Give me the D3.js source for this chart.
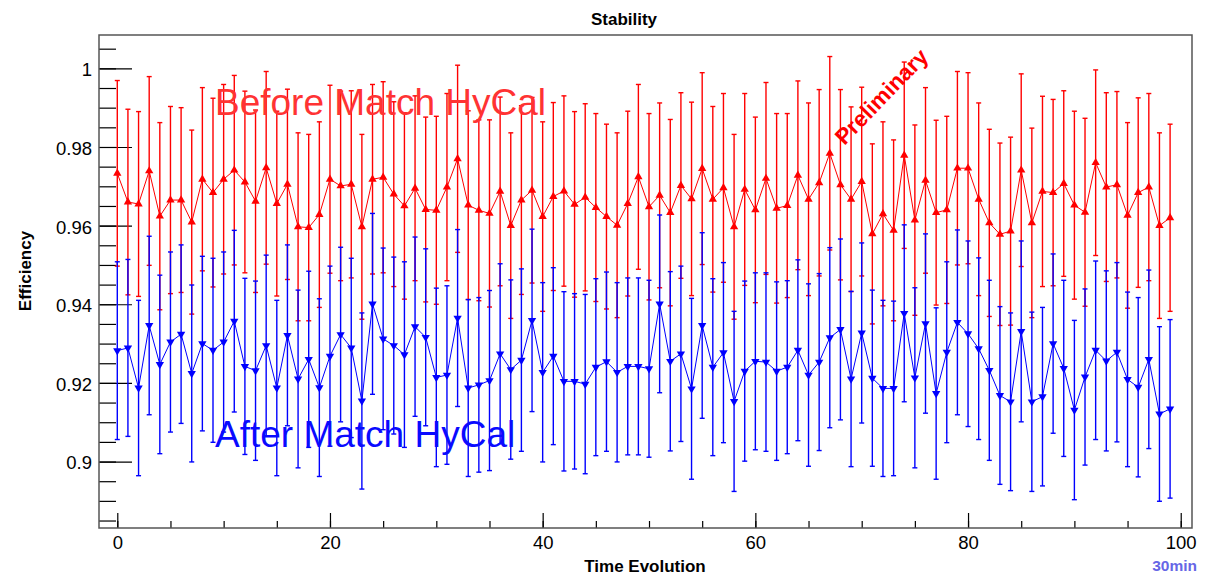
<!DOCTYPE html>
<html>
<head>
<meta charset="utf-8">
<script src="https://cdn.jsdelivr.net/npm/d3@7"></script>
<style>
  html, body { margin: 0; padding: 0; background: #fff; }
  svg { display: block; font-family: "Liberation Sans", Arial, Helvetica, sans-serif; }
</style>
</head>
<body>
<div id="chart"></div>
<script>
// Stability - efficiency vs time (30 min bins)
const runIndex = d3.range(100);

const beforeEff = [
  0.9733, 0.9660, 0.9655, 0.9739, 0.9624, 0.9665, 0.9665, 0.9609, 0.9718, 0.9684,
  0.9718, 0.9741, 0.9711, 0.9662, 0.9747, 0.9656, 0.9705, 0.9597, 0.9595, 0.9628,
  0.9718, 0.9701, 0.9705, 0.9597, 0.9718, 0.9723, 0.9680, 0.9650, 0.9695, 0.9641,
  0.9639, 0.9698, 0.9770, 0.9652, 0.9639, 0.9631, 0.9687, 0.9600, 0.9665, 0.9690,
  0.9623, 0.9674, 0.9688, 0.9654, 0.9672, 0.9646, 0.9623, 0.9601, 0.9656, 0.9724,
  0.9648, 0.9677, 0.9633, 0.9702, 0.9668, 0.9745, 0.9667, 0.9696, 0.9597, 0.9692,
  0.9640, 0.9720, 0.9644, 0.9651, 0.9728, 0.9667, 0.9709, 0.9784, 0.9704, 0.9667,
  0.9712, 0.9579, 0.9630, 0.9588, 0.9779, 0.9614, 0.9715, 0.9633, 0.9640, 0.9746,
  0.9746, 0.9667, 0.9607, 0.9578, 0.9586, 0.9741, 0.9607, 0.9687, 0.9684, 0.9707,
  0.9652, 0.9634, 0.9760, 0.9698, 0.9704, 0.9626, 0.9684, 0.9698, 0.9600, 0.9620
];
const beforeErr = [
  0.0236, 0.0236, 0.0235, 0.0240, 0.0238, 0.0238, 0.0235, 0.0234, 0.0233, 0.0240,
  0.0241, 0.0241, 0.0231, 0.0232, 0.0245, 0.0235, 0.0242, 0.0239, 0.0237, 0.0236,
  0.0239, 0.0241, 0.0238, 0.0235, 0.0241, 0.0243, 0.0235, 0.0237, 0.0235, 0.0235,
  0.0239, 0.0238, 0.0238, 0.0240, 0.0230, 0.0238, 0.0240, 0.0236, 0.0240, 0.0236,
  0.0241, 0.0239, 0.0242, 0.0236, 0.0238, 0.0239, 0.0235, 0.0235, 0.0235, 0.0235,
  0.0237, 0.0235, 0.0237, 0.0236, 0.0246, 0.0244, 0.0236, 0.0240, 0.0235, 0.0244,
  0.0236, 0.0244, 0.0241, 0.0234, 0.0240, 0.0245, 0.0237, 0.0246, 0.0242, 0.0235,
  0.0240, 0.0229, 0.0234, 0.0230, 0.0237, 0.0242, 0.0236, 0.0235, 0.0238, 0.0246,
  0.0243, 0.0245, 0.0238, 0.0232, 0.0239, 0.0245, 0.0241, 0.0242, 0.0237, 0.0236,
  0.0239, 0.0239, 0.0236, 0.0240, 0.0237, 0.0236, 0.0241, 0.0238, 0.0236, 0.0238
];

const afterEff = [
  0.9282, 0.9289, 0.9187, 0.9346, 0.9247, 0.9304, 0.9324, 0.9224, 0.9300, 0.9283,
  0.9304, 0.9357, 0.9242, 0.9231, 0.9295, 0.9187, 0.9321, 0.9210, 0.9260, 0.9188,
  0.9268, 0.9323, 0.9289, 0.9154, 0.9401, 0.9312, 0.9295, 0.9272, 0.9343, 0.9316,
  0.9214, 0.9220, 0.9365, 0.9187, 0.9195, 0.9206, 0.9274, 0.9234, 0.9258, 0.9359,
  0.9227, 0.9268, 0.9204, 0.9204, 0.9197, 0.9240, 0.9254, 0.9227, 0.9242, 0.9242,
  0.9236, 0.9401, 0.9255, 0.9274, 0.9185, 0.9346, 0.9240, 0.9277, 0.9153, 0.9230,
  0.9255, 0.9253, 0.9230, 0.9240, 0.9283, 0.9220, 0.9253, 0.9315, 0.9336, 0.9210,
  0.9327, 0.9212, 0.9186, 0.9186, 0.9377, 0.9213, 0.9351, 0.9173, 0.9278, 0.9354,
  0.9325, 0.9287, 0.9232, 0.9168, 0.9152, 0.9331, 0.9152, 0.9165, 0.9300, 0.9237,
  0.9131, 0.9215, 0.9283, 0.9256, 0.9278, 0.9209, 0.9189, 0.9260, 0.9121, 0.9134
];
const afterErr = [
  0.0226, 0.0225, 0.0223, 0.0227, 0.0227, 0.0229, 0.0227, 0.0225, 0.0222, 0.0234,
  0.0229, 0.0231, 0.0224, 0.0228, 0.0230, 0.0223, 0.0230, 0.0226, 0.0224, 0.0226,
  0.0229, 0.0222, 0.0228, 0.0224, 0.0230, 0.0231, 0.0225, 0.0236, 0.0228, 0.0225,
  0.0227, 0.0227, 0.0225, 0.0225, 0.0222, 0.0229, 0.0229, 0.0228, 0.0232, 0.0232,
  0.0228, 0.0225, 0.0228, 0.0223, 0.0228, 0.0225, 0.0228, 0.0228, 0.0225, 0.0225,
  0.0225, 0.0226, 0.0228, 0.0223, 0.0230, 0.0236, 0.0225, 0.0229, 0.0229, 0.0229,
  0.0225, 0.0227, 0.0227, 0.0220, 0.0230, 0.0232, 0.0225, 0.0229, 0.0230, 0.0223,
  0.0229, 0.0224, 0.0224, 0.0222, 0.0225, 0.0229, 0.0228, 0.0218, 0.0230, 0.0235,
  0.0236, 0.0231, 0.0229, 0.0226, 0.0226, 0.0230, 0.0228, 0.0227, 0.0228, 0.0224,
  0.0228, 0.0224, 0.0227, 0.0229, 0.0228, 0.0222, 0.0228, 0.0227, 0.0222, 0.0227
];

const xMajorTicks = [0, 20, 40, 60, 80, 100];
const xMinorTicks = d3.range(0, 101, 5);
const yMajorTicks = [0.9, 0.92, 0.94, 0.96, 0.98, 1.0];
const yMinorTicks = d3.range(0.885, 1.0075, 0.005);

const width = 1212, height = 575;
const frame = { left: 99, right: 1192, top: 35, bottom: 528 };

const svg = d3.select("#chart").append("svg")
  .attr("width", width)
  .attr("height", height);

const x = d3.scaleLinear().domain([-1.72, 101.06]).range([frame.left, frame.right]);
const y = d3.scaleLinear().domain([0.8831, 1.00848]).range([frame.bottom, frame.top]);

// 坐标轴 (ticks pointing inward like ROOT)
const xMinor = svg.append("g")
  .attr("transform", `translate(0,${frame.bottom})`)
  .call(d3.axisBottom(x).tickValues(xMinorTicks).tickSize(-7).tickFormat(""));
const xMajor = svg.append("g")
  .attr("transform", `translate(0,${frame.bottom})`)
  .call(d3.axisBottom(x).tickValues(xMajorTicks).tickSize(-15).tickPadding(8)
    .tickFormat(d3.format("d")));

const yMinor = svg.append("g")
  .attr("transform", `translate(${frame.left},0)`)
  .call(d3.axisLeft(y).tickValues(yMinorTicks).tickSize(-17).tickFormat(""));
const yMajor = svg.append("g")
  .attr("transform", `translate(${frame.left},0)`)
  .call(d3.axisLeft(y).tickValues(yMajorTicks).tickSize(-33).tickPadding(7)
    .tickFormat(d => String(+d.toFixed(2))));

[xMinor, xMajor, yMinor, yMajor].forEach(g => {
  g.select(".domain").remove();
  g.selectAll(".tick line").attr("stroke", "#000").attr("stroke-width", 1.2);
  g.selectAll(".tick text")
    .attr("font-size", "18.5px")
    .attr("font-family", "'Liberation Sans', Arial, sans-serif")
    .attr("fill", "#000");
});
yMajor.selectAll(".tick text").attr("dy", "0.4em");

// frame
svg.append("rect")
  .attr("x", frame.left)
  .attr("y", frame.top)
  .attr("width", frame.right - frame.left)
  .attr("height", frame.bottom - frame.top)
  .attr("fill", "none")
  .attr("stroke", "#555")
  .attr("stroke-width", 1.5);

function drawSeries(values, errors, color, rotate) {
  const pts = runIndex.map(i => ({ t: i, v: values[i], e: errors[i] }));
  const g = svg.append("g");

  // error bars
  const bars = g.append("g").attr("stroke", color).attr("stroke-width", 1.4);
  bars.selectAll(".eb")
    .data(pts)
    .join("line")
    .attr("x1", d => x(d.t)).attr("x2", d => x(d.t))
    .attr("y1", d => y(d.v - d.e)).attr("y2", d => y(d.v + d.e));
  bars.selectAll(".cap")
    .data(pts.flatMap(d => [d.v - d.e, d.v + d.e].map(v => ({ t: d.t, v }))))
    .join("line")
    .attr("x1", d => x(d.t) - 2.5).attr("x2", d => x(d.t) + 2.5)
    .attr("y1", d => y(d.v)).attr("y2", d => y(d.v));

  // connecting line
  g.append("path")
    .datum(pts)
    .attr("fill", "none")
    .attr("stroke", color)
    .attr("stroke-width", 1)
    .attr("d", d3.line().x(d => x(d.t)).y(d => y(d.v)));

  // markers
  const sym = d3.symbol().type(d3.symbolTriangle).size(30);
  g.selectAll(".m")
    .data(pts)
    .join("path")
    .attr("transform", d => `translate(${x(d.t)},${y(d.v)}) rotate(${rotate})`)
    .attr("d", sym)
    .attr("fill", color);
}

drawSeries(beforeEff, beforeErr, "#ff0000", 0);
drawSeries(afterEff, afterErr, "#0000ff", 180);

// texts
svg.append("text")
  .attr("x", 624).attr("y", 25)
  .attr("text-anchor", "middle")
  .attr("font-size", "17px").attr("font-weight", "bold")
  .text("Stability");

svg.append("text")
  .attr("x", 645).attr("y", 572)
  .attr("text-anchor", "middle")
  .attr("font-size", "17px").attr("font-weight", "bold")
  .text("Time Evolution");

svg.append("text")
  .attr("transform", "translate(31,271) rotate(-90)")
  .attr("text-anchor", "middle")
  .attr("font-size", "17px").attr("font-weight", "bold")
  .text("Efficiency");

svg.append("text")
  .attr("x", 1197).attr("y", 571)
  .attr("text-anchor", "end")
  .attr("font-size", "15.5px").attr("font-weight", "bold")
  .attr("fill", "#6666e6")
  .text("30min");

svg.append("text")
  .attr("x", 215).attr("y", 115)
  .attr("font-size", "37px")
  .attr("fill", "#ff3333")
  .text("Before Match HyCal");

svg.append("text")
  .attr("x", 215).attr("y", 447)
  .attr("font-size", "37px")
  .attr("fill", "#0a0aff")
  .text("After Match HyCal");

svg.append("text")
  .attr("transform", "translate(887,102) rotate(-46)")
  .attr("text-anchor", "middle")
  .attr("font-size", "22.5px").attr("font-weight", "bold")
  .attr("fill", "#ff0000")
  .text("Preliminary");
</script>
</body>
</html>
